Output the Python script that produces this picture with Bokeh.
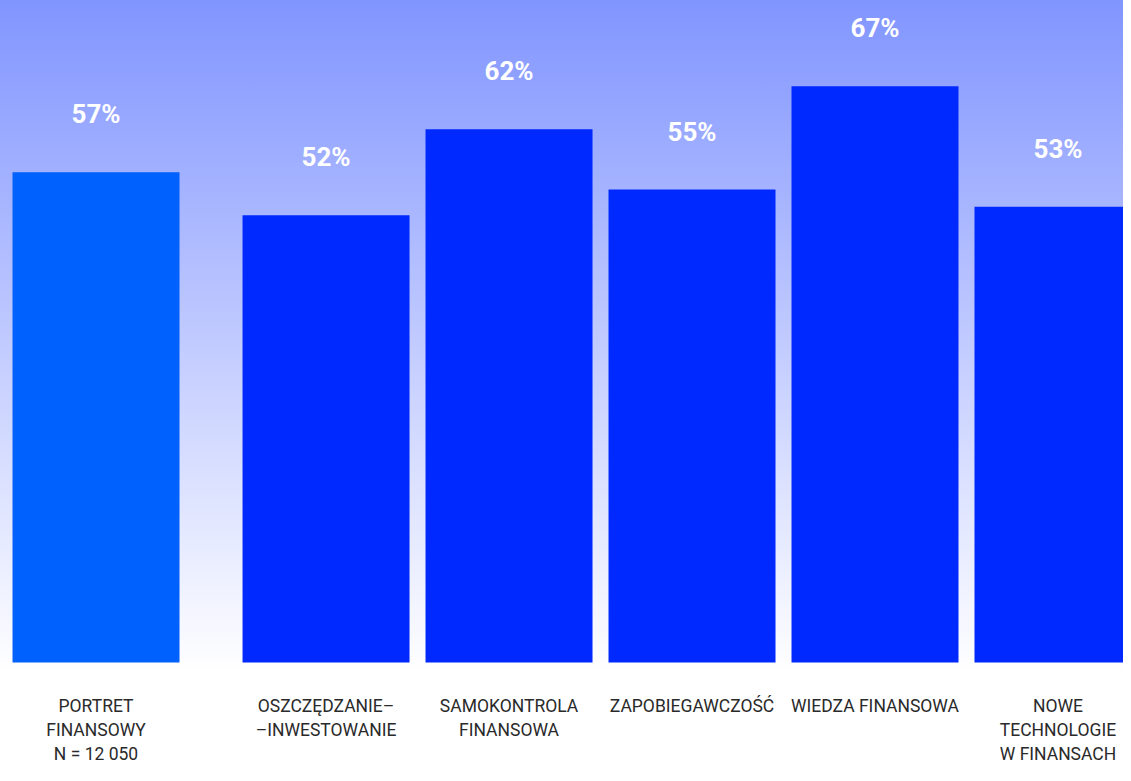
import numpy as np
from bokeh.plotting import figure
from bokeh.models import ColumnDataSource, Range1d
from bokeh.embed import file_html
from bokeh.resources import INLINE
from bokeh.core.properties import value

# ---- data ----
categories = [
    "PORTRET\nFINANSOWY\nN = 12 050",
    "OSZCZĘDZANIE–\n–INWESTOWANIE",
    "SAMOKONTROLA\nFINANSOWA",
    "ZAPOBIEGAWCZOŚĆ",
    "WIEDZA FINANSOWA",
    "NOWE\nTECHNOLOGIE\nW FINANSACH",
]
values = [57, 52, 62, 55, 67, 53]
value_labels = [f"{v}%" for v in values]
bar_colors = ["#0061ff", "#0029ff", "#0029ff", "#0029ff", "#0029ff", "#0029ff"]

# ---- layout helpers ----
GROUP_GAP = 0.257          # extra gap after the first (reference) bar
BAR_WIDTH = 0.9126
idx = np.arange(len(values))
xpos = idx + GROUP_GAP * (idx > 0)

src = ColumnDataSource(dict(x=xpos, top=values, lab=value_labels,
                            cat=categories, color=bar_colors))

p = figure(width=1123, height=765,
           x_range=Range1d(-0.522, 5.615), y_range=Range1d(-11.98, 76.98),
           output_backend="svg", toolbar_location=None, min_border=0)
p.axis.visible = False
p.grid.visible = False
p.outline_line_color = None
p.background_fill_alpha = 0
p.border_fill_alpha = 0
p.styles = {"background": "linear-gradient(to bottom, rgb(129,149,255) 0px, #ffffff 672px, #ffffff 100%)"}

p.vbar(x="x", top="top", bottom=0, width=BAR_WIDTH, fill_color="color",
       line_color=None, source=src)

p.text(x="x", y="top", text="lab", source=src, y_offset=-58,
       text_align="center", text_baseline="middle", text_color="white",
       text_font=value("Roboto"), text_font_style="bold", text_font_size="26px")

p.text(x="x", y=0, text="cat", source=src, y_offset=34,
       text_align="center", text_baseline="top", text_color="#2a2a2a",
       text_font=value("Roboto"), text_font_size="17.5px", line_height=1.2)

open("out.html", "w").write(file_html(p, INLINE))
